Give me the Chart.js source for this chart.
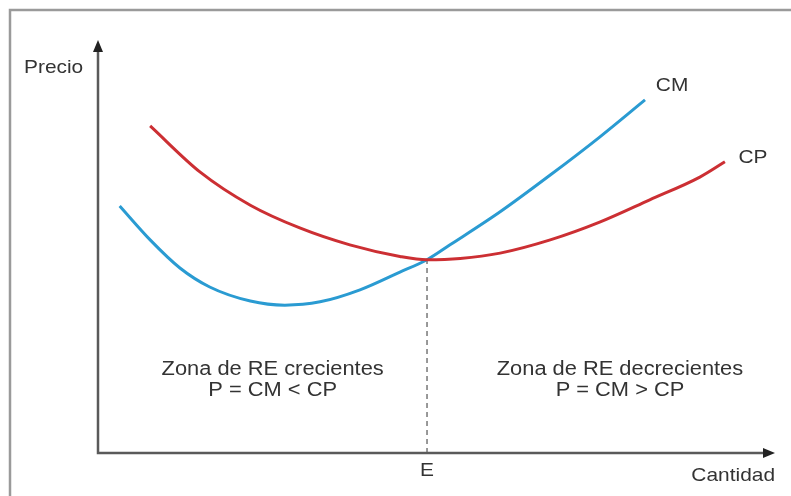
<!DOCTYPE html>
<html>
<head>
<meta charset="utf-8">
<script src="https://cdn.jsdelivr.net/npm/chart.js@4.4.0/dist/chart.umd.min.js"></script>
<style>
  html, body { margin: 0; padding: 0; background: #fff; }
  #wrap { width: 791px; height: 496px; position: relative; }
</style>
</head>
<body>
<div id="wrap"><canvas id="chart"></canvas></div>
<script>
// cantidad (x) and precio (y) for each curve
const cpX = [7.7, 15.1, 22.5, 29.8, 37.2, 44.6, 48.6, 53.5, 59.4, 66.8, 74.1, 81.5, 88.9, 92.6];
const cpY = [79.2, 68.0, 60.0, 54.5, 50.4, 47.6, 46.8, 47.1, 48.4, 51.6, 55.9, 61.3, 66.8, 70.5];
const cmX = [3.2, 7.7, 12.1, 16.5, 22.5, 27.6, 32.8, 38.7, 44.6, 48.6, 52.0, 59.4, 66.8, 74.1, 80.8];
const cmY = [59.8, 51.6, 44.8, 40.2, 36.8, 35.8, 36.6, 39.5, 43.8, 46.8, 50.4, 58.4, 67.3, 76.5, 85.5];
const equilibrium = { x: 48.6, y: 46.8 };

const seriesNames = ['CM', 'CP'];
const axisLabels = ['Precio', 'Cantidad', 'E'];
const zoneLeft = ['Zona de RE crecientes', 'P = CM < CP'];
const zoneRight = ['Zona de RE decrecientes', 'P = CM > CP'];

const toPoints = (xs, ys) => xs.map((x, i) => ({ x: x, y: ys[i] }));

// text in the picture is a little wider than the font, so stretch it sideways
const stretchText = (ctx, text, x, y, sx) => {
  ctx.save();
  ctx.translate(x, y);
  ctx.scale(sx, 1);
  ctx.fillText(text, 0, 0);
  ctx.restore();
};

const decorations = {
  id: 'decorations',
  afterDraw(chart) {
    const ctx = chart.ctx;
    const area = chart.chartArea;
    const xs = chart.scales.x;
    const ys = chart.scales.y;
    ctx.save();

    // picture frame (top and left only)
    ctx.strokeStyle = '#9a9a9a';
    ctx.lineWidth = 2.5;
    ctx.beginPath();
    ctx.moveTo(10, 496);
    ctx.lineTo(10, 10);
    ctx.lineTo(791, 10);
    ctx.stroke();

    // axes with arrows
    ctx.strokeStyle = '#5a5a5a';
    ctx.fillStyle = '#222';
    ctx.lineWidth = 2.5;
    ctx.beginPath();
    ctx.moveTo(area.left, area.top + 8);
    ctx.lineTo(area.left, area.bottom);
    ctx.lineTo(area.right - 8, area.bottom);
    ctx.stroke();
    ctx.beginPath();
    ctx.moveTo(area.left, area.top);
    ctx.lineTo(area.left - 5, area.top + 12);
    ctx.lineTo(area.left + 5, area.top + 12);
    ctx.closePath();
    ctx.fill();
    ctx.beginPath();
    ctx.moveTo(area.right, area.bottom);
    ctx.lineTo(area.right - 12, area.bottom - 5);
    ctx.lineTo(area.right - 12, area.bottom + 5);
    ctx.closePath();
    ctx.fill();

    ctx.fillStyle = '#333';
    ctx.textBaseline = 'middle';
    ctx.font = '19px "Liberation Sans", Arial, sans-serif';
    ctx.textAlign = 'left';
    stretchText(ctx, axisLabels[0], 24, 68, 1.1);
    ctx.textAlign = 'right';
    stretchText(ctx, axisLabels[1], area.right, area.bottom + 23, 1.1);
    ctx.textAlign = 'center';
    stretchText(ctx, axisLabels[2], xs.getPixelForValue(equilibrium.x), area.bottom + 18, 1.1);

    // curve labels
    ctx.textAlign = 'left';
    stretchText(ctx, seriesNames[0], xs.getPixelForValue(82.4), ys.getPixelForValue(88.8), 1.1);
    stretchText(ctx, seriesNames[1], xs.getPixelForValue(94.6), ys.getPixelForValue(71.4), 1.1);

    // zone notes
    ctx.font = '19.5px "Liberation Sans", Arial, sans-serif';
    ctx.textAlign = 'center';
    stretchText(ctx, zoneLeft[0], xs.getPixelForValue(25.8), ys.getPixelForValue(20.3), 1.12);
    stretchText(ctx, zoneLeft[1], xs.getPixelForValue(25.8), ys.getPixelForValue(15.0), 1.12);
    stretchText(ctx, zoneRight[0], xs.getPixelForValue(77.1), ys.getPixelForValue(20.3), 1.12);
    stretchText(ctx, zoneRight[1], xs.getPixelForValue(77.1), ys.getPixelForValue(15.0), 1.12);
    ctx.restore();
  }
};

new Chart(document.getElementById('chart'), {
  type: 'scatter',
  data: {
    datasets: [
      {
        label: seriesNames[1],
        data: toPoints(cpX, cpY),
        showLine: true,
        borderColor: '#cc2f33',
        borderWidth: 3,
        pointRadius: 0,
        cubicInterpolationMode: 'monotone'
      },
      {
        label: seriesNames[0],
        data: toPoints(cmX, cmY),
        showLine: true,
        borderColor: '#2a9bd2',
        borderWidth: 3,
        pointRadius: 0,
        cubicInterpolationMode: 'monotone'
      },
      {
        label: 'E',
        data: [{ x: equilibrium.x, y: 0 }, { x: equilibrium.x, y: equilibrium.y }],
        showLine: true,
        borderColor: '#777',
        borderWidth: 1.5,
        borderDash: [5, 4],
        pointRadius: 0
      }
    ]
  },
  options: {
    responsive: true,
    maintainAspectRatio: false,
    animation: false,
    layout: { padding: { left: 98, top: 40, right: 16, bottom: 43 } },
    plugins: { legend: { display: false }, tooltip: { enabled: false } },
    scales: {
      x: { type: 'linear', min: 0, max: 100, display: false },
      y: { type: 'linear', min: 0, max: 100, display: false }
    }
  },
  plugins: [decorations]
});
</script>
</body>
</html>
